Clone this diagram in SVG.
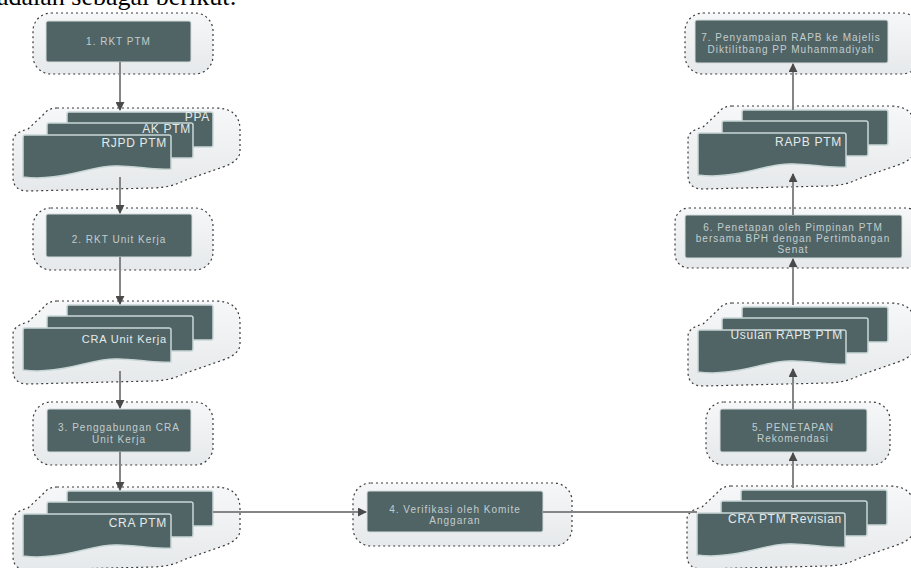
<svg xmlns="http://www.w3.org/2000/svg" width="911" height="568" viewBox="0 0 911 568">
<style>
.halo{fill:url(#hg);stroke:#3a3a3a;stroke-width:1.2;stroke-dasharray:2 3}
.box{fill:#506466;stroke:#d4dcdc;stroke-width:1}
.doc{fill:#506466;stroke:#c9d6d6;stroke-width:1.5}
.bt{font-family:"Liberation Sans",Arial,sans-serif;font-size:10px;fill:#c3cdcd;text-anchor:middle;letter-spacing:1px}
.dt{font-family:"Liberation Sans",Arial,sans-serif;font-size:12px;fill:#e4eaea;text-anchor:end;letter-spacing:0.7px}
.ln{fill:none;stroke:#858585;stroke-width:2}
.hd{font-family:"Liberation Serif","Times New Roman",serif;font-size:26px;fill:#000}
</style>
<defs>
<linearGradient id="hg" x1="0" y1="0" x2="0" y2="1">
<stop offset="0" stop-color="#f6f7f8"/>
<stop offset="1" stop-color="#e6e9eb"/>
</linearGradient>
<marker id="ar" viewBox="0 0 10 10" refX="9" refY="5" markerWidth="4.5" markerHeight="4.5" orient="auto">
<path d="M0,0 L10,5 L0,10 Z" fill="#4a4a4a"/>
</marker>
<g id="stack">
<path class="halo" d="M34,-27 L192,-27 Q217,-27 217,-5 L217,16 Q217,26 200,32 L160,46 Q150,52 130,53 L5,56 Q-10,56 -10,42 L-10,6 Q-10,-2 5,-6 L20,-20 Q25,-27 34,-27 Z"/>
<rect class="doc" x="44" y="-23" width="146" height="35" rx="2"/>
<rect class="doc" x="24" y="-12" width="146" height="35" rx="2"/>
<path class="doc" d="M2,0 L146,0 Q148,0 148,2 L148,34 C125,36 105,28 80,32 C55,36 30,46 0,42 L0,2 Q0,0 2,0 Z"/>
</g>
</defs>

<text class="hd" x="-3" y="5">adalah sebagai berikut:</text>

<g id="node1">
<rect class="halo" x="33" y="13" width="180" height="61" rx="18"/>
<rect class="box" x="46" y="21" width="145" height="41" rx="2"/>
<text class="bt" x="118.5" y="45">1. RKT PTM</text>
</g>
<g id="doc1">
<use href="#stack" x="23" y="135"/>
<text class="dt" x="210" y="121">PPA</text>
<text class="dt" x="191" y="133">AK PTM</text>
<text class="dt" x="167" y="147">RJPD PTM</text>
</g>
<g id="node2">
<rect class="halo" x="33" y="208" width="180" height="62" rx="18"/>
<rect class="box" x="46" y="214" width="146" height="43" rx="2"/>
<text class="bt" x="119" y="243">2. RKT Unit Kerja</text>
</g>
<g id="doc2">
<use href="#stack" x="23" y="328"/>
<text class="dt" x="167" y="343" style="font-size:11px;letter-spacing:0.8px">CRA Unit Kerja</text>
</g>
<g id="node3">
<rect class="halo" x="33" y="402" width="180" height="63" rx="18"/>
<rect class="box" x="47" y="409" width="144" height="43" rx="2"/>
<text class="bt" x="119" y="431">3. Penggabungan CRA</text>
<text class="bt" x="119" y="443">Unit Kerja</text>
</g>
<g id="doc3">
<use href="#stack" x="23" y="514"/>
<text class="dt" x="167" y="527">CRA PTM</text>
</g>
<g id="node4">
<rect class="halo" x="353" y="483" width="219" height="63" rx="18"/>
<rect class="box" x="367" y="491" width="176" height="41" rx="2"/>
<text class="bt" x="455" y="513">4. Verifikasi oleh Komite</text>
<text class="bt" x="455" y="524">Anggaran</text>
</g>
<g id="doc4">
<use href="#stack" x="697" y="513"/>
<text class="dt" x="842" y="523">CRA PTM Revisian</text>
</g>
<g id="node5">
<rect class="halo" x="706" y="402" width="184" height="63" rx="18"/>
<rect class="box" x="720" y="409" width="147" height="43" rx="2"/>
<text class="bt" x="793" y="431">5. PENETAPAN</text>
<text class="bt" x="793" y="442">Rekomendasi</text>
</g>
<g id="doc5">
<use href="#stack" x="698" y="330"/>
<text class="dt" x="843" y="339">Usulan RAPB PTM</text>
</g>
<g id="node6">
<rect class="halo" x="675" y="208" width="245" height="60" rx="14"/>
<rect class="box" x="685" y="215" width="217" height="43" rx="2"/>
<text class="bt" x="793" y="231">6. Penetapan oleh Pimpinan PTM</text>
<text class="bt" x="793" y="242">bersama BPH dengan Pertimbangan</text>
<text class="bt" x="793" y="253">Senat</text>
</g>
<g id="doc6">
<use href="#stack" x="698" y="133"/>
<text class="dt" x="842" y="146">RAPB PTM</text>
</g>
<g id="node7">
<rect class="halo" x="685" y="13" width="235" height="61" rx="18"/>
<rect class="box" x="695" y="20" width="193" height="43" rx="2"/>
<text class="bt" x="791" y="41">7. Penyampaian RAPB ke Majelis</text>
<text class="bt" x="791" y="53">Diktilitbang PP Muhammadiyah</text>
</g>

<g id="connectors">
<path class="ln" d="M120,62 L120,110" marker-end="url(#ar)"/>
<path class="ln" d="M120,177 L120,213" marker-end="url(#ar)"/>
<path class="ln" d="M120,257 L120,304" marker-end="url(#ar)"/>
<path class="ln" d="M120,371 L120,408" marker-end="url(#ar)"/>
<path class="ln" d="M120,452 L120,490" marker-end="url(#ar)"/>
<path class="ln" d="M213,512 L366,512" marker-end="url(#ar)"/>
<path class="ln" d="M543,512 L697,512"/>
<path class="ln" d="M793,488 L793,453" marker-end="url(#ar)"/>
<path class="ln" d="M793,409 L793,369" marker-end="url(#ar)"/>
<path class="ln" d="M793,305 L793,259" marker-end="url(#ar)"/>
<path class="ln" d="M793,215 L793,174" marker-end="url(#ar)"/>
<path class="ln" d="M793,110 L793,64" marker-end="url(#ar)"/>
</g>
</svg>
